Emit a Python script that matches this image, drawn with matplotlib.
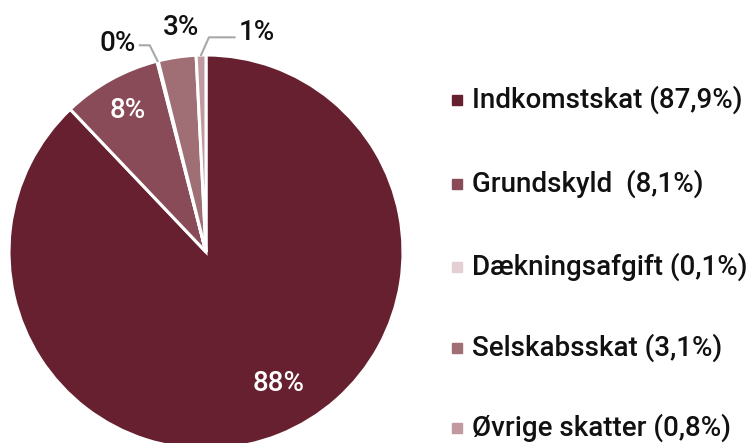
import numpy as np
import matplotlib
matplotlib.use("Agg")
import matplotlib.pyplot as plt

# data
labels = ["Indkomstskat", "Grundskyld ", "Dækningsafgift", "Selskabsskat", "Øvrige skatter"]
shares = [87.9, 8.1, 0.1, 3.1, 0.8]
pct_labels = ["88%", "8%", "0%", "3%", "1%"]
colors = ["#66202F", "#8A4B58", "#E3D0D3", "#A06E75", "#C09AA0"]

plt.rcParams['font.family'] = ['Roboto', 'DejaVu Sans']
plt.rcParams['font.weight'] = 500

W, H = 748, 443
fig = plt.figure(figsize=(W / 100, H / 100), dpi=100)

# pie axes: centre ~ (206, 252) px, radius ~197 px
cx, cy, r = 206, 252, 197
ax = fig.add_axes([(cx - r) / W, (H - cy - r) / H, 2 * r / W, 2 * r / H])
wedges, _ = ax.pie(shares, colors=colors, startangle=90, counterclock=False,
                   wedgeprops=dict(edgecolor='white', linewidth=2.2))
ax.set_xlim(-1, 1)
ax.set_ylim(-1, 1)
for w in wedges:
    w.set_clip_on(False)

def mid_angle(w):
    return np.deg2rad((w.theta1 + w.theta2) / 2)

fs = 20

# inside labels (white)
for i, dist, shift in [(0, 0.76, 7), (1, 0.82, 0)]:
    a = mid_angle(wedges[i]) + np.deg2rad(shift)
    ax.text(dist * np.cos(a), dist * np.sin(a), pct_labels[i], color='white',
            fontsize=fs, ha='center', va='center')

# outside labels with elbow leaders
lc = '#A8A8A8'
# 0%
a = mid_angle(wedges[2])
x0, y0 = 1.0 * np.cos(a), 1.0 * np.sin(a)
ax.plot([x0, x0 - 0.04, x0 - 0.09], [y0, y0 + 0.08, y0 + 0.08], color=lc, lw=1.5, clip_on=False)
ax.text(x0 - 0.11, y0 + 0.09, pct_labels[2], fontsize=fs, ha='right', va='center', color='#111111')
# 3%
a = mid_angle(wedges[3])
x0, y0 = np.cos(a), np.sin(a)
ax.text(x0 + 0.02, y0 + 0.15, pct_labels[3], fontsize=fs, ha='center', va='center', color='#111111')
# 1%
a = mid_angle(wedges[4])
x0, y0 = np.cos(a), np.sin(a)
ax.plot([x0, x0 + 0.04, x0 + 0.17], [y0, y0 + 0.09, y0 + 0.09], color=lc, lw=1.5, clip_on=False)
ax.text(x0 + 0.19, y0 + 0.115, pct_labels[4], fontsize=fs, ha='left', va='center', color='#111111')

# legend
lax = fig.add_axes([0, 0, 1, 1])
lax.set_xlim(0, W)
lax.set_ylim(H, 0)
lax.axis('off')
row_y = [100, 184, 267, 348, 428]
for lab, val, col, y in zip(labels, shares, colors, row_y):
    lax.add_patch(plt.Rectangle((452, y - 5), 10, 10, color=col))
    txt = f"{lab} ({val:.1f}%)".replace('.', ',')
    lax.text(472, y, txt, fontsize=fs, ha='left', va='center', color='#111111')

fig.savefig("out.png", dpi=100)
